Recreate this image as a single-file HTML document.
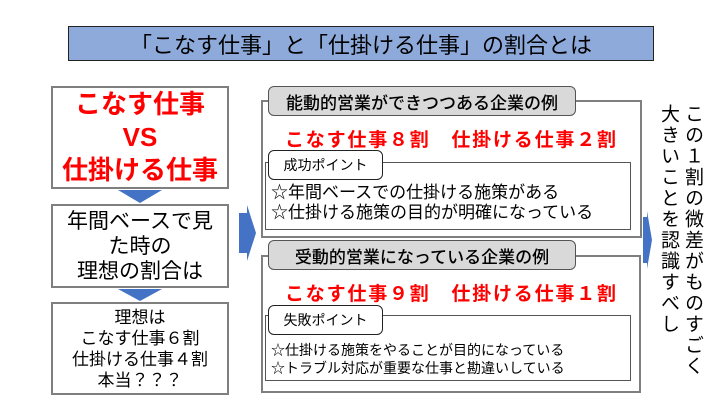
<!DOCTYPE html>
<html><head><meta charset="utf-8"><style>
*{margin:0;padding:0;box-sizing:border-box}
body{width:720px;height:405px;background:#fff;position:relative;overflow:hidden;font-family:"Liberation Sans","Noto Sans CJK JP",sans-serif;color:#000}
.a{position:absolute}
.box{position:absolute;border:2px solid #7f7f7f;background:#fff}
.c{display:flex;flex-direction:column;align-items:center;justify-content:center;text-align:center}
.tab{position:absolute;border:1.5px solid #555;border-radius:6px;background:#d9d9d9;font-size:17px;display:flex;align-items:center;justify-content:center;font-weight:500}
.wtab{position:absolute;border:1.5px solid #222;border-radius:6px;background:#fff;font-size:14px;display:flex;align-items:center;justify-content:center}
.red{color:#ff0000}
.vt{position:absolute;writing-mode:vertical-rl;font-size:19px;line-height:24px;letter-spacing:2px}
</style></head><body>
<div class="a c" style="left:68px;top:26px;width:586px;height:35px;background:#8eaadb;border:1.5px solid #222;font-size:22px">「こなす仕事」と「仕掛ける仕事」の割合とは</div>

<div class="box c red" style="left:51px;top:86px;width:178px;height:103px;font-size:26px;line-height:33px;font-weight:bold">こなす仕事<br>VS<br>仕掛ける仕事</div>
<svg class="a" style="left:118px;top:190px" width="44" height="13"><polygon points="0,0 44,0 22,13" fill="#4472c4"/></svg>
<div class="box c" style="left:51px;top:204px;width:178px;height:84px;font-size:21px;line-height:25px">年間ベースで見<br>た時の<br>理想の割合は</div>
<svg class="a" style="left:118px;top:289px" width="44" height="12"><polygon points="0,0 44,0 22,12" fill="#4472c4"/></svg>
<div class="box c" style="left:51px;top:302px;width:178px;height:93px;font-size:17px;line-height:21px">理想は<br>こなす仕事６割<br>仕掛ける仕事４割<br>本当？？？</div>

<svg class="a" style="left:239px;top:205px" width="17" height="56"><polygon points="0,8 8,8 8,0 17,28 8,56 8,48 0,48" fill="#4472c4"/></svg>

<div class="box" style="left:261px;top:100px;width:381px;height:138px"></div>
<div class="tab" style="left:268px;top:86px;width:308px;height:30px">能動的営業ができつつある企業の例</div>
<div class="a red" style="left:285px;top:125px;font-size:19px;letter-spacing:1.8px;font-weight:bold;white-space:nowrap">こなす仕事８割　仕掛ける仕事２割</div>
<div class="a" style="left:265px;top:162px;width:366px;height:68px;border:1.5px solid #555"></div>
<div class="wtab" style="left:268px;top:150px;width:115px;height:30px">成功ポイント</div>
<div class="a" style="left:271px;top:183px;font-size:17px;line-height:20px;white-space:nowrap">☆年間ベースでの仕掛ける施策がある<br>☆仕掛ける施策の目的が明確になっている</div>

<div class="box" style="left:261px;top:255px;width:380px;height:138px"></div>
<div class="tab" style="left:268px;top:240px;width:308px;height:30px">受動的営業になっている企業の例</div>
<div class="a red" style="left:285px;top:279px;font-size:19px;letter-spacing:1.8px;font-weight:bold;white-space:nowrap">こなす仕事９割　仕掛ける仕事１割</div>
<div class="a" style="left:265px;top:315px;width:366px;height:66px;border:1.5px solid #555"></div>
<div class="wtab" style="left:268px;top:305px;width:115px;height:30px">失敗ポイント</div>
<div class="a" style="left:271px;top:341px;font-size:14px;line-height:18px;white-space:nowrap">☆仕掛ける施策をやることが目的になっている<br>☆トラブル対応が重要な仕事と勘違いしている</div>

<svg class="a" style="left:643px;top:211px" width="9" height="58"><polygon points="0,6 4,6 4,0 9,29 4,58 4,52 0,52" fill="#4472c4"/></svg>
<div class="vt" style="left:656px;top:104px">この１割の微差がものすごく<br>大きいことを認識すべし</div>
</body></html>
